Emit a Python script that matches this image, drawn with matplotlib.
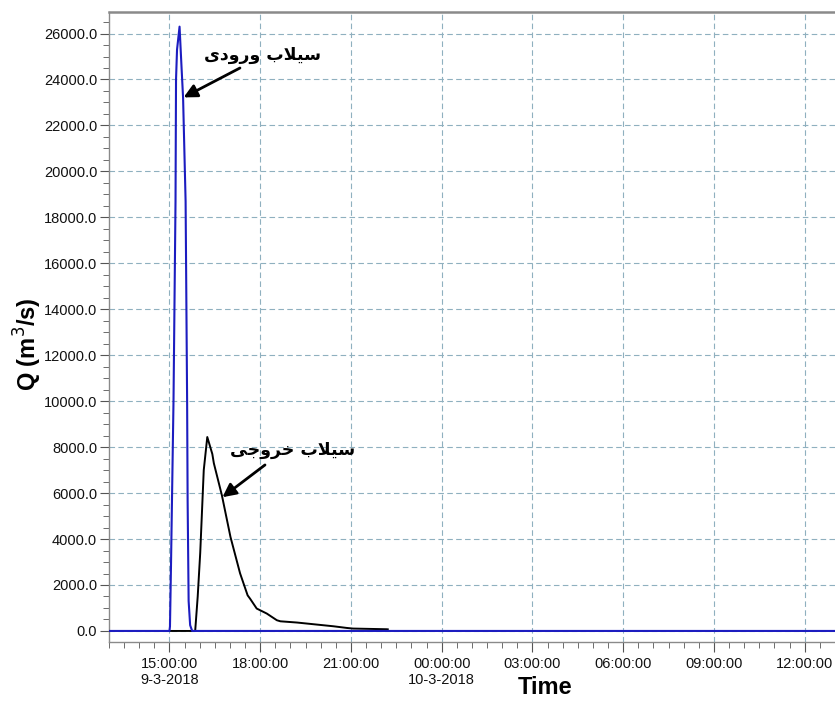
import numpy as np
import pandas as pd
import matplotlib
matplotlib.use("Agg")
import matplotlib.pyplot as plt
import matplotlib.dates as mdates
from matplotlib.ticker import MultipleLocator, FormatStrFormatter

# =========================
# DATA (read off the hydrograph)
# =========================
DAY1 = "2018-03-09 "
END = "2018-03-10 13:00"

inflow_time = ["13:00", "15:00", "15:01", "15:03", "15:05", "15:08", "15:12", "15:13",
               "15:15", "15:20", "15:24", "15:27", "15:32", "15:35", "15:36", "15:38",
               "15:41", "15:45"]
inflow_q = [0, 0, 200, 2800, 5700, 10000, 18700, 24000,
            25300, 26300, 24500, 23200, 18700, 10000, 5700, 1300,
            250, 0, 0]

outflow_time = ["15:00", "15:51", "15:56", "16:01", "16:08", "16:15", "16:25", "16:28",
                "16:44", "17:01", "17:20", "17:35", "17:40", "17:53", "18:13", "18:33",
                "18:40", "19:13", "19:52", "20:25", "20:52", "21:04", "22:11", "22:13"]
outflow_q = [0, 0, 1500, 3400, 7000, 8440, 7700, 7300,
             5900, 4090, 2510, 1550, 1400, 975, 757, 466,
             420, 366, 278, 204, 130, 104, 74, 70]

xtick_times = ["2018-03-09 15:00", "2018-03-09 18:00", "2018-03-09 21:00", "2018-03-10 00:00",
               "2018-03-10 03:00", "2018-03-10 06:00", "2018-03-10 09:00", "2018-03-10 12:00"]
xtick_labels = ["15:00:00\n9-3-2018", "18:00:00", "21:00:00", "00:00:00\n10-3-2018",
                "03:00:00", "06:00:00", "09:00:00", "12:00:00"]

label_in = "سیلاب ورودی"
label_out = "سیلاب خروجی"

# =========================
# minimal arabic/persian shaping (matplotlib has no bidi)
# =========================
FORMS = {  # isolated, final, initial, medial
    "س": ("\uFEB1", "\uFEB2", "\uFEB3", "\uFEB4"),
    "ی": ("\uFBFC", "\uFBFD", "\uFBFE", "\uFBFF"),
    "ل": ("\uFEDD", "\uFEDE", "\uFEDF", "\uFEE0"),
    "ب": ("\uFE8F", "\uFE90", "\uFE91", "\uFE92"),
    "خ": ("\uFEA5", "\uFEA6", "\uFEA7", "\uFEA8"),
    "ج": ("\uFE9D", "\uFE9E", "\uFE9F", "\uFEA0"),
    "ا": ("\uFE8D", "\uFE8E", None, None),
    "و": ("\uFEED", "\uFEEE", None, None),
    "ر": ("\uFEAD", "\uFEAE", None, None),
    "د": ("\uFEA9", "\uFEAA", None, None),
}


def dual(c):
    return c in FORMS and FORMS[c][2] is not None


def shape(text):
    out = []
    i = 0
    while i < len(text):
        c = text[i]
        if c not in FORMS:
            out.append(c)
            i += 1
            continue
        prev_joins = i > 0 and dual(text[i - 1])
        if c == "ل" and i + 1 < len(text) and text[i + 1] == "ا":
            out.append("\uFEFC" if prev_joins else "\uFEFB")
            i += 2
            continue
        next_joins = dual(c) and i + 1 < len(text) and text[i + 1] in FORMS
        iso, fin, ini, med = FORMS[c]
        if prev_joins and next_joins:
            out.append(med)
        elif prev_joins:
            out.append(fin)
        elif next_joins:
            out.append(ini)
        else:
            out.append(iso)
        i += 1
    return "".join(out[::-1])


# =========================
# PLOT
# =========================
plt.rcParams["font.family"] = ["Liberation Sans", "DejaVu Sans"]

t_in = pd.to_datetime([DAY1 + s for s in inflow_time] + [END])
t_out = pd.to_datetime([DAY1 + s for s in outflow_time])

fig = plt.figure(figsize=(8.35, 7.02), dpi=100)
ax = fig.add_axes([0.1305, 0.0855, 0.8695, 0.8975])

ax.plot(t_out, outflow_q, color="black", lw=1.4, zorder=3)
ax.plot(t_in, inflow_q, color="#1c1cc0", lw=1.5, zorder=4)

ax.set_xlim(pd.Timestamp("2018-03-09 13:00"), pd.Timestamp(END))
ax.set_ylim(-480, 26940)

ax.set_xticks(pd.to_datetime(xtick_times))
ax.set_xticklabels(xtick_labels)
ax.xaxis.set_minor_locator(mdates.MinuteLocator(byminute=[0, 30]))
ax.yaxis.set_major_locator(MultipleLocator(2000))
ax.yaxis.set_minor_locator(MultipleLocator(500))
ax.yaxis.set_major_formatter(FormatStrFormatter("%.1f"))

ax.tick_params(axis="both", which="major", direction="out", color="#555555",
               labelsize=10.5, labelcolor="#111111")
ax.tick_params(axis="y", which="major", length=6.5, pad=2)
ax.tick_params(axis="y", which="minor", length=4, color="#555555")
ax.tick_params(axis="x", which="major", length=7, pad=4)
ax.tick_params(axis="x", which="minor", length=4, color="#555555")

ax.grid(True, which="major", color="#8fb0bf", linestyle=(0, (5, 3)), lw=0.8)

for side in ["top", "left", "bottom"]:
    ax.spines[side].set_color("#8a8a8a")
ax.spines["top"].set_linewidth(1.8)
ax.spines["left"].set_linewidth(1.0)
ax.spines["bottom"].set_linewidth(1.0)
ax.spines["right"].set_visible(False)

# axis titles
fig.text(28 / 835, 1 - 344 / 702, "Q (m$^3$/s)", rotation=90, fontsize=17,
         fontweight="bold", ha="center", va="center")
fig.text(0.653, 0.02, "Time", fontsize=17, fontweight="bold", ha="center", va="center")

# annotations: text, then arrow from tail to the curve
arrow = dict(arrowstyle="-|>", color="black", lw=2, mutation_scale=20,
             shrinkA=0, shrinkB=0)
ax.text(0.211, 0.932, shape(label_in), transform=ax.transAxes,
        fontsize=12.5, fontweight="bold", family="DejaVu Sans", ha="center", va="center")
ax.annotate("", xy=(pd.Timestamp("2018-03-09 15:28"), 23220),
            xytext=(0.1804, 0.911), textcoords="axes fraction", arrowprops=arrow)
ax.text(0.253, 0.305, shape(label_out), transform=ax.transAxes,
        fontsize=12.5, fontweight="bold", family="DejaVu Sans", ha="center", va="center")
ax.annotate("", xy=(pd.Timestamp("2018-03-09 16:45"), 5820),
            xytext=(0.2149, 0.281), textcoords="axes fraction", arrowprops=arrow)

fig.savefig("out.png", dpi=100)
